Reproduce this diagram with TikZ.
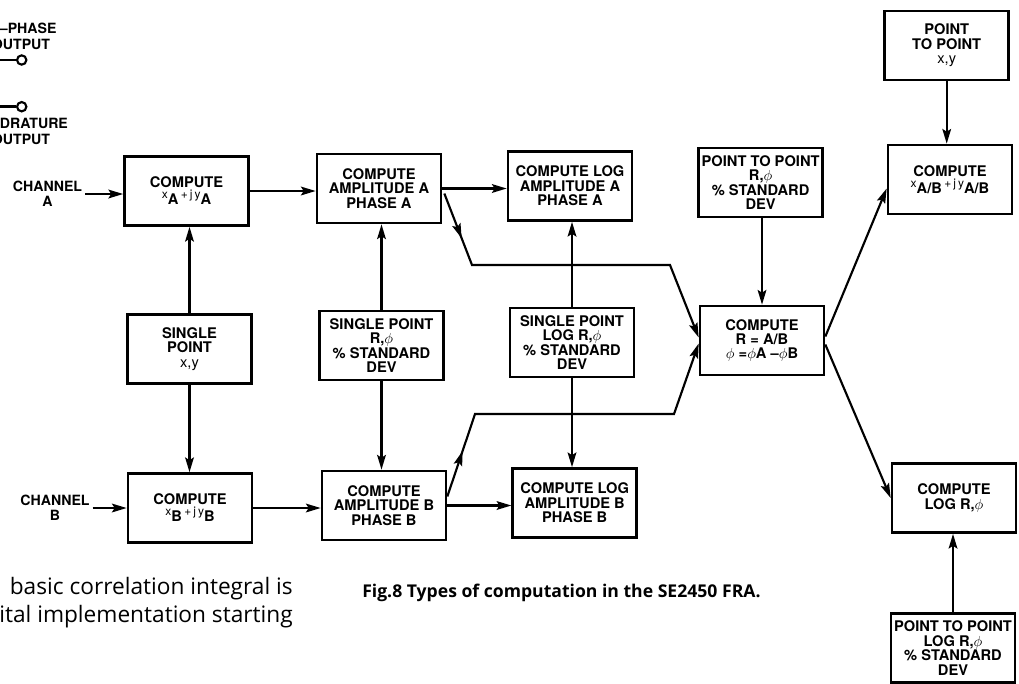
\documentclass[tikz,border=0pt]{standalone}
\usepackage{fontspec}
\setmainfont{TeX Gyre Heros}
\newfontfamily\bodyfont{Open Sans}
\usepackage{tikz}
\usetikzlibrary{arrows.meta, positioning, calc, decorations.markings}

\newcommand{\xjy}[1]{\raisebox{2.5pt}{\small\mdseries x}\raisebox{-2pt}{#1}\,\raisebox{2.5pt}{\small\mdseries +\,j\,y}\raisebox{-2pt}{#1}}

\begin{document}
\begin{tikzpicture}[
    x=0.75pt, y=-0.75pt,
    blk/.style={draw, line width=2pt, minimum width=93pt, minimum height=51.75pt, inner sep=0pt, align=center, font=\fontsize{11}{10.8}\selectfont\bfseries},
    lbl/.style={inner sep=2pt, align=center, font=\fontsize{10.6}{11.2}\selectfont\bfseries},
    arr/.style={draw, line width=1.6pt, -{Stealth[length=11pt, width=6.5pt, inset=2pt]}},
    midarr/.style={arr, postaction={decorate}, decoration={markings, mark=at position 36pt with {\arrow{Stealth[length=11pt, width=6.5pt, inset=2pt]}}}},
    jack/.style={draw, circle, line width=1.6pt, minimum size=7pt, inner sep=0pt}
]
\useasboundingbox (0,0) rectangle (1019,683);
\clip (0,0) rectangle (1019,683);

\node[lbl, anchor=west] (inph) at (-3,28) {--PHASE};
\node[lbl, anchor=east] (outI) at (53,44) {OUTPUT};
\node[lbl, anchor=west] (quad) at (-3,123) {DRATURE};
\node[lbl, anchor=east] (outQ) at (53,139) {OUTPUT};
\node[jack] (jackI) at (21.7,60) {};
\node[jack] (jackQ) at (21.7,106.7) {};
\coordinate (wireI) at (0,60);
\coordinate (wireQ) at (0,106.7);
\draw[line width=2pt] (wireI) -- (jackI);
\draw[line width=2pt] (wireQ) -- (jackQ);

\node[lbl] (chanA) at (47.5,194) {CHANNEL\\A};
\node[lbl] (chanB) at (55,508) {CHANNEL\\B};

\node[blk] (CompA) at (186.5,191) {COMPUTE\\\xjy{A}};
\node[blk] (AmpA) at (379,188.5) {COMPUTE\\AMPLITUDE A\\PHASE A};
\node[blk] (LogA) at (570,186) {COMPUTE LOG\\AMPLITUDE A\\PHASE A};
\node[blk] (PtPR) at (760.6,182.5) {POINT TO POINT\\R,\(\phi\)\\\% STANDARD\\DEV};
\node[blk] (PtPxy) at (946.7,45.5) {POINT\\TO POINT\\{\mdseries x,y}};
\node[blk] (CompAB) at (950,179.5) {COMPUTE\\\xjy{A/B}};

\node[blk] (SPxy) at (189.5,349) {SINGLE\\POINT\\{\mdseries x,y}};
\node[blk] (SPR) at (381.5,345.5) {SINGLE POINT\\R,\(\phi\)\\\% STANDARD\\DEV};
\node[blk] (SPLogR) at (572,342.5) {SINGLE POINT\\LOG R,\(\phi\)\\\% STANDARD\\DEV};
\node[blk] (CompR) at (762,340.5) {COMPUTE\\R = A/B\\\(\phi\) =\(\phi\)A --\(\phi\)B};

\node[blk] (CompB) at (190,508) {COMPUTE\\\xjy{B}};
\node[blk] (AmpB) at (384,505.5) {COMPUTE\\AMPLITUDE B\\PHASE B};
\node[blk] (LogB) at (574.7,503) {COMPUTE LOG\\AMPLITUDE B\\PHASE B};
\node[blk] (CompLogR) at (954,498) {COMPUTE\\LOG R,\(\phi\)};
\node[blk] (PtPLogR) at (953,648) {POINT TO POINT\\LOG R,\(\phi\)\\\% STANDARD\\DEV};

\node[font=\bodyfont\fontsize{17}{20}\selectfont, anchor=base east, inner sep=0pt] (body1) at (293,594) {basic correlation integral is};
\node[font=\bodyfont\fontsize{17}{20}\selectfont, anchor=base east, inner sep=0pt] (body2) at (293,622) {ital implementation starting};
\node[font=\bodyfont\bfseries\fontsize{13.2}{15}\selectfont, anchor=base west, inner sep=0pt] (caption) at (362,597) {Fig.8 Types of computation in the SE2450 FRA.};

\draw[arr] (chanA.east) -- (chanA.east -| CompA.west);
\draw[arr] (chanB.east) -- (chanB.east -| CompB.west);
\draw[arr] (CompA.east) -- (CompA.east -| AmpA.west);
\draw[arr] (AmpA.east) -- (AmpA.east -| LogA.west);
\draw[arr] (CompB.east) -- (CompB.east -| AmpB.west);
\draw[arr] (AmpB.east) -- (AmpB.east -| LogB.west);

\draw[arr] (SPxy.north) -- (SPxy.north |- CompA.south);
\draw[arr] (SPxy.south) -- (SPxy.south |- CompB.north);
\draw[arr] (SPR.north) -- (SPR.north |- AmpA.south);
\draw[arr] (SPR.south) -- (SPR.south |- AmpB.north);
\draw[arr] (SPLogR.north) -- (SPLogR.north |- LogA.south);
\draw[arr] (SPLogR.south) -- (SPLogR.south |- LogB.north);
\draw[arr] (PtPR.south -| CompR.north) -- (CompR.north);
\draw[arr] (PtPxy.south) -- (PtPxy.south |- CompAB.north);
\draw[arr] (PtPLogR.north) -- (PtPLogR.north |- CompLogR.south);

\coordinate (a1) at (472,265);
\coordinate (a2) at (670,265);
\coordinate (b1) at (475,414);
\coordinate (b2) at (674,414);
\draw[midarr] ($(AmpA.east)+(2,5)$) -- (a1) -- (a2) -- ($(CompR.west)+(0,-3)$);
\draw[midarr] ($(AmpB.east)+(0,-9)$) -- (b1) -- (b2) -- ($(CompR.west)+(0,3)$);

\draw[arr] ($(CompR.east)+(0,-4)$) -- ($(CompAB.west)+(0,9)$);
\draw[arr] ($(CompR.east)+(0,4)$) -- (CompLogR.west);
\end{tikzpicture}
\end{document}
